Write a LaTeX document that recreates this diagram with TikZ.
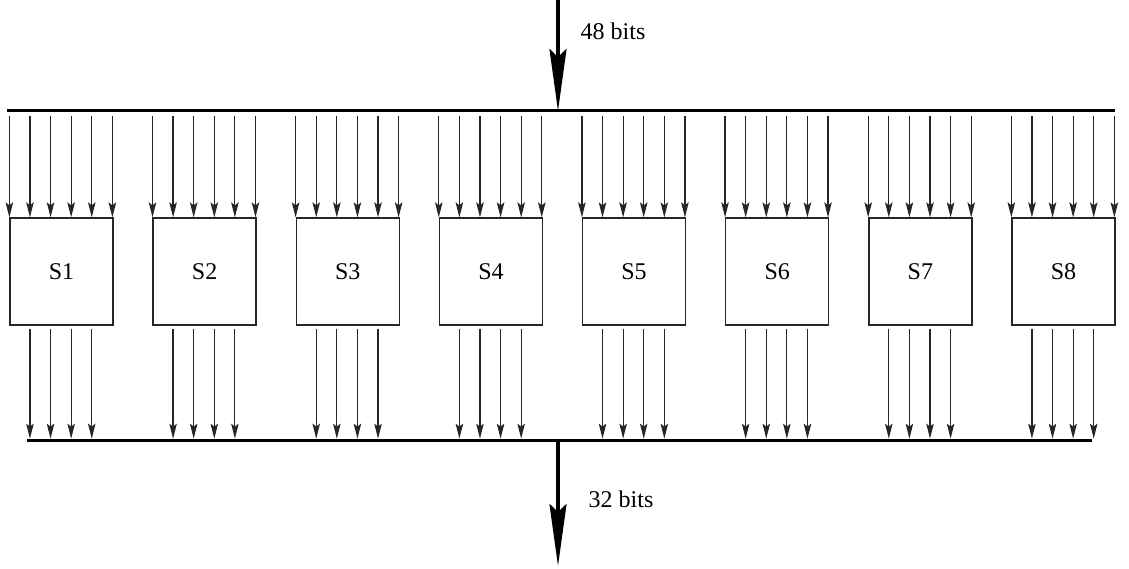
\documentclass[tikz,border=0pt]{standalone}
\usepackage{fontspec}
\setmainfont{Liberation Serif}
\usetikzlibrary{arrows.meta,calc}

\tikzset{
	sbox/.style={draw=black!85, line width=1.3pt, minimum width=103pt, minimum height=107pt, inner sep=0pt},
	bit/.style={draw=black!85, line width=1.2pt, -{Stealth[length=15pt, width=7.5pt, inset=3pt]}},
	bus/.style={line width=3pt},
	wide/.style={line width=3.5pt, -{Stealth[length=62pt, width=17pt, inset=8pt]}}
}

\begin{document}
\begin{tikzpicture}[x=1pt, y=1pt, font=\fontsize{24}{28}\selectfont]

	\useasboundingbox (0,0) rectangle (1129,-569);

	% buses
	\coordinate (inl) at (7,-111);
	\coordinate (inr) at (1115,-111);
	\coordinate (outl) at (27,-440);
	\coordinate (outr) at (1092,-440);
	\draw [bus] (inl) -- (inr);
	\draw [bus] (outl) -- (outr);

	% 48 bits in
	\coordinate (intop) at (558,0);
	\draw [wide] (intop) -- (intop |- inl);
	\node (lin) at (613,-31) {48 bits};

	% 32 bits out
	\coordinate (outbot) at (558,-566);
	\draw [wide] (outbot |- outl) -- (outbot);
	\node (lout) at (621,-499) {32 bits};

	% S-boxes with six inputs and four outputs each
	\foreach \i in {1,...,8} {
		\node [sbox] (s\i) at ({10+143.14*(\i-1)+51.5}, -271.5) {S\i};
		\foreach \k in {0,...,5}
			\draw [bit] ($(s\i.north west)+(\k*20.6,101)$) -- ($(s\i.north west)+(\k*20.6,0)$);
		\foreach \k in {1,...,4}
			\draw [bit] ($(s\i.south west)+(\k*20.6,-3)$) -- ($(s\i.south west)+(\k*20.6,-113)$);
	}

\end{tikzpicture}
\end{document}
